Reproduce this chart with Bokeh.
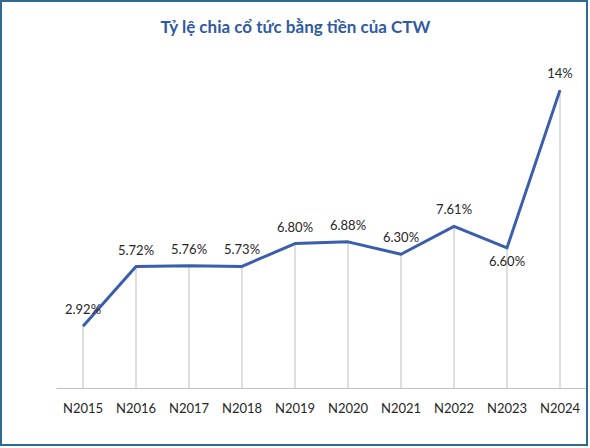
from bokeh.plotting import figure
from bokeh.models import ColumnDataSource, Range1d
from bokeh.core.properties import value
from bokeh.embed import file_html
from bokeh.resources import INLINE

# data
years = ["N2015", "N2016", "N2017", "N2018", "N2019",
         "N2020", "N2021", "N2022", "N2023", "N2024"]
payout = [2.92, 5.72, 5.76, 5.73, 6.80, 6.88, 6.30, 7.61, 6.60, 14.0]
payout_labels = ["2.92%", "5.72%", "5.76%", "5.73%", "6.80%",
                 "6.88%", "6.30%", "7.61%", "6.60%", "14%"]
labels_below = ["N2023"]

FONT = "Lato"
LINE_BLUE = "#3A5EAC"
GRID_GREY = "#BFBFBF"

src = ColumnDataSource(dict(x=years, y=payout, lbl=payout_labels, zero=[0] * len(years)))
above = ColumnDataSource(dict(
    x=[c for c in years if c not in labels_below],
    y=[v for c, v in zip(years, payout) if c not in labels_below],
    lbl=[l for c, l in zip(years, payout_labels) if c not in labels_below]))
below = ColumnDataSource(dict(
    x=[c for c in years if c in labels_below],
    y=[v for c, v in zip(years, payout) if c in labels_below],
    lbl=[l for c, l in zip(years, payout_labels) if c in labels_below]))

p = figure(x_range=years, y_range=Range1d(0, 16),
           width=588, height=446,
           output_backend="svg", toolbar_location=None,
           min_border_left=54, min_border_right=4,
           min_border_top=45, min_border_bottom=60)

# title sits over the whole chart box, not over the frame -> left align + offset
p.title.text = "Tỷ lệ chia cổ tức bằng tiền của CTW"
p.title.align = "left"
p.title.offset = 104
p.title.standoff = 21
p.title.text_font = FONT
p.title.text_font_size = "17px"
p.title.text_font_style = "bold"
p.title.text_color = "#2F5AA3"

p.outline_line_color = None
p.grid.visible = False
p.yaxis.visible = False

p.xaxis.axis_line_color = GRID_GREY
p.xaxis.major_tick_line_color = None
p.xaxis.minor_tick_line_color = None
p.xaxis.major_label_text_font = FONT
p.xaxis.major_label_text_font_size = "13px"
p.xaxis.major_label_text_color = "#262626"
p.xaxis.major_label_standoff = 5

# drop lines
p.segment(x0="x", y0="zero", x1="x", y1="y", source=src,
          line_color=GRID_GREY, line_width=1)

p.line(x="x", y="y", source=src, line_color=LINE_BLUE, line_width=3,
       line_join="round")

p.text(x="x", y="y", text="lbl", source=above,
       text_align="center", text_baseline="bottom", y_offset=-9,
       text_font=value(FONT), text_font_size="13px", text_color="#262626")
p.text(x="x", y="y", text="lbl", source=below,
       text_align="center", text_baseline="top", y_offset=5,
       text_font=value(FONT), text_font_size="13px", text_color="#262626")

p.styles = {"border": "2px solid #2D6A96", "box-sizing": "border-box"}

open("out.html", "w").write(file_html(p, INLINE))
